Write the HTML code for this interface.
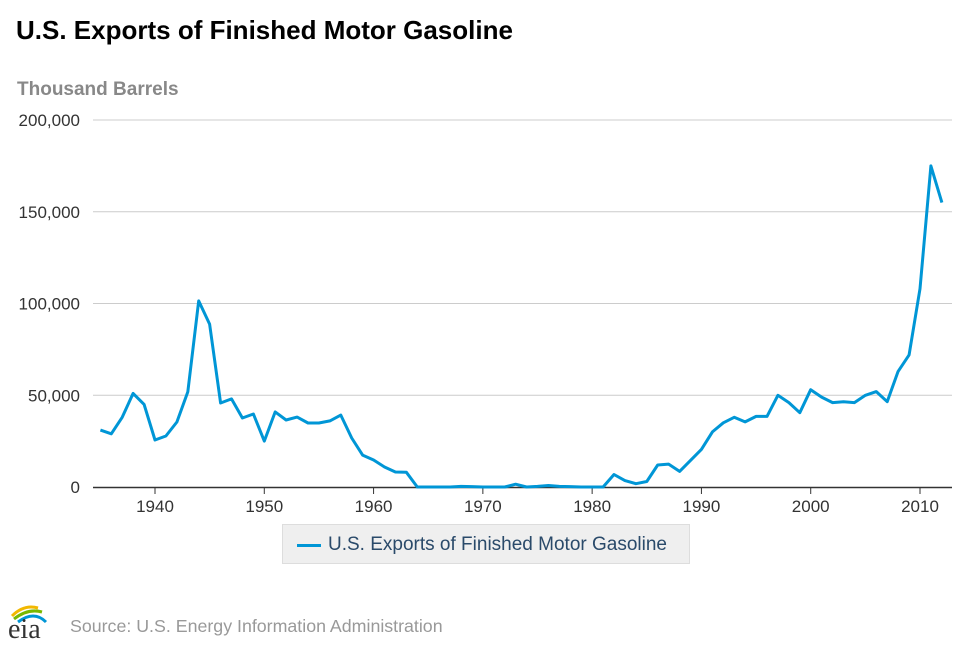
<!DOCTYPE html>
<html><head><meta charset="utf-8"><style>
body{margin:0;width:970px;height:647px;background:#fff;font-family:"Liberation Sans",Arial,sans-serif;overflow:hidden;position:relative}
.t{position:absolute;white-space:nowrap}
</style></head><body>
<div class="t" style="left:16px;top:15px;font-size:26px;font-weight:bold;color:#000">U.S. Exports of Finished Motor Gasoline</div>
<div class="t" style="left:17px;top:79px;font-size:19px;font-weight:bold;color:#888">Thousand Barrels</div>
<svg id="chart" width="970" height="647" style="position:absolute;left:0;top:0"></svg>
<div style="position:absolute;left:282px;top:524px;width:408px;height:40px;background:#efefef;border:1px solid #ddd;box-sizing:border-box">
  <div style="position:absolute;left:14px;top:19px;width:24px;height:3px;background:#0096d6"></div>
  <div class="t" style="left:45px;top:9px;font-size:19px;color:#2a4a6a">U.S. Exports of Finished Motor Gasoline</div>
</div>
<svg width="50" height="40" style="position:absolute;left:6px;top:602px">
  <path d="M6 14 Q18 2 32 6" stroke="#f2b800" stroke-width="3" fill="none"/>
  <path d="M8 17 Q22 6 36 10" stroke="#7ab800" stroke-width="3" fill="none"/>
  <path d="M12 20 Q28 8 40 20" stroke="#0096d6" stroke-width="3" fill="none"/>
  <text x="2" y="36" font-family="Liberation Serif,serif" font-size="28" fill="#333">eia</text>
</svg>
<div class="t" style="left:70px;top:616px;font-size:17.8px;color:#999">Source: U.S. Energy Information Administration</div>
<script>
const years=[];for(let y=1935;y<=2012;y++)years.push(y);
const values=[31000,29000,38000,51000,45000,25600,27800,35400,51800,101400,88800,45800,48000,37600,39800,25000,40900,36500,38100,34900,34900,36000,39200,26700,17400,14700,10900,8200,8000,0,
0,0,0,300,200,0,0,0,1500,0,300,800,300,200,0,0,0,6800,3500,1800,3000,12000,12500,8500,14500,20500,30000,35000,38000,35500,38500,38500,50000,46000,40500,53000,49000,46000,46500,46000,50000,52000,46500,63000,72000,108000,175000,155000];
const yTicks=[0,50000,100000,150000,200000];
const yTickLabels=["0","50,000","100,000","150,000","200,000"];
const xTicks=[1940,1950,1960,1970,1980,1990,2000,2010];
const svg=document.getElementById('chart');const NS='http://www.w3.org/2000/svg';
const X=y=>155+(y-1940)*(765/70);
const Y=v=>487-v/200000*367;
function mk(t,a){const e=document.createElementNS(NS,t);for(const k in a)e.setAttribute(k,a[k]);svg.appendChild(e);return e;}
yTicks.forEach((v,i)=>{
  if(v>0){const g=mk('line',{x1:93,x2:952,y1:Y(v),y2:Y(v),stroke:'#ccc','stroke-width':1});
  
  }
  const t=mk('text',{x:80,y:Y(v)+6,'text-anchor':'end','font-size':17,fill:'#333','font-family':'Liberation Sans,sans-serif'});
  t.textContent=yTickLabels[i];
  
  
});
const ax=mk('line',{x1:93,x2:952,y1:487.5,y2:487.5,stroke:'#333','stroke-width':1.5});


xTicks.forEach(y=>{
  const l=mk('line',{x1:X(y),x2:X(y),y1:487,y2:494,stroke:'#333','stroke-width':1});
  
  
  const t=mk('text',{x:X(y),y:512,'text-anchor':'middle','font-size':17,fill:'#333','font-family':'Liberation Sans,sans-serif'});
  t.textContent=y;
  
  
});
const d=years.map((y,i)=>(i?'L':'M')+X(y).toFixed(1)+' '+Y(values[i]).toFixed(1)).join(' ');
const p=mk('path',{d:d,fill:'none',stroke:'#0096d6','stroke-width':3,'stroke-linejoin':'round'});


</script>
</body></html>
